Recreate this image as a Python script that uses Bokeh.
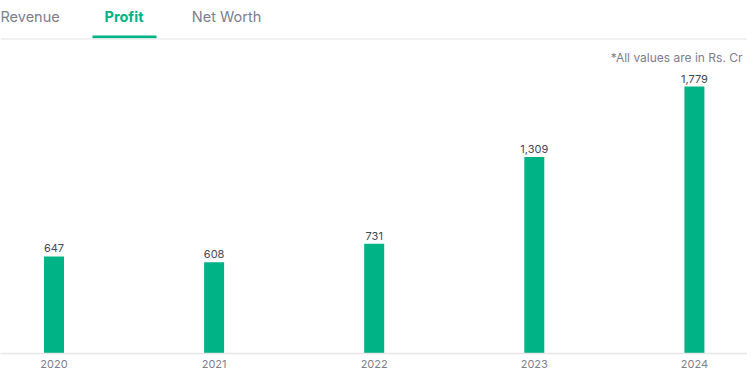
from bokeh.plotting import figure
from bokeh.models import ColumnDataSource, FixedTicker, Label, Span, Range1d
from bokeh.core.properties import value
from bokeh.embed import file_html
from bokeh.resources import INLINE

years = ["2020", "2021", "2022", "2023", "2024"]
profit = [647, 608, 731, 1309, 1779]
labels = ["647", "608", "731", "1,309", "1,779"]
tabs = ["Revenue", "Profit", "Net Worth"]
note = "*All values are in Rs. Cr"

GREEN = "#00b386"
GRAY = "#7c7e8c"
FONT = "Inter"

W, H = 747, 372
FRAME_H = 353
BOTTOM = H - FRAME_H
YMAX = FRAME_H / 0.15008
PX_PER_CAT = 160.1
X0 = -53.5 / PX_PER_CAT
X1 = X0 + W / PX_PER_CAT

def dx(px):
    return X0 + px / PX_PER_CAT

def dy(py):
    return (FRAME_H - py) * YMAX / FRAME_H

xs = list(range(len(years)))
src = ColumnDataSource(dict(x=xs, y=profit, lab=labels))

p = figure(width=W, height=H, output_backend="svg", toolbar_location=None,
           x_range=Range1d(X0, X1), y_range=Range1d(0, YMAX),
           min_border_left=0, min_border_right=0, min_border_top=0,
           min_border_bottom=BOTTOM, y_axis_location=None)
p.outline_line_color = None
p.grid.visible = False
p.background_fill_color = "white"
p.border_fill_color = "white"

p.vbar(x="x", top="y", width=20 / PX_PER_CAT, bottom=0, source=src,
       fill_color=GREEN, line_color=None)
p.text(x="x", y="y", text="lab", source=src, y_offset=-4,
       text_align="center", text_baseline="bottom",
       text_font=value(FONT), text_font_size="11px", text_color="#44475b")

ax = p.xaxis[0]
ax.ticker = FixedTicker(ticks=xs)
ax.major_label_overrides = {i: y for i, y in zip(xs, years)}
ax.major_tick_line_color = None
ax.major_tick_out = 0
ax.major_tick_in = 0
ax.minor_tick_line_color = None
ax.axis_line_color = "#e6e6e6"
ax.axis_line_width = 1.5
ax.major_label_standoff = 6
ax.major_label_text_font = FONT
ax.major_label_text_font_size = "11px"
ax.major_label_text_color = GRAY

# tabs
tab_pos = [(0, "left"), (123.5, "center"), (226, "center")]
for t, (px, al) in zip(tabs, tab_pos):
    active = t == "Profit"
    p.add_layout(Label(x=dx(px), y=dy(16), text=t, text_align=al,
                       text_baseline="middle", text_font=FONT,
                       text_font_size="14.5px",
                       text_font_style="bold" if active else "normal",
                       text_color=GREEN if active else GRAY))
p.add_layout(Span(location=dy(38.5), dimension="width",
                  line_color="#ececec", line_width=1.5))
p.quad(left=dx(92), right=dx(156), top=dy(35), bottom=dy(38),
       fill_color=GREEN, line_color=None)

p.add_layout(Label(x=dx(742), y=dy(57), text=note, text_align="right",
                   text_baseline="middle", text_font=FONT,
                   text_font_size="12px", text_color=GRAY))

open("out.html", "w").write(file_html(p, INLINE))
